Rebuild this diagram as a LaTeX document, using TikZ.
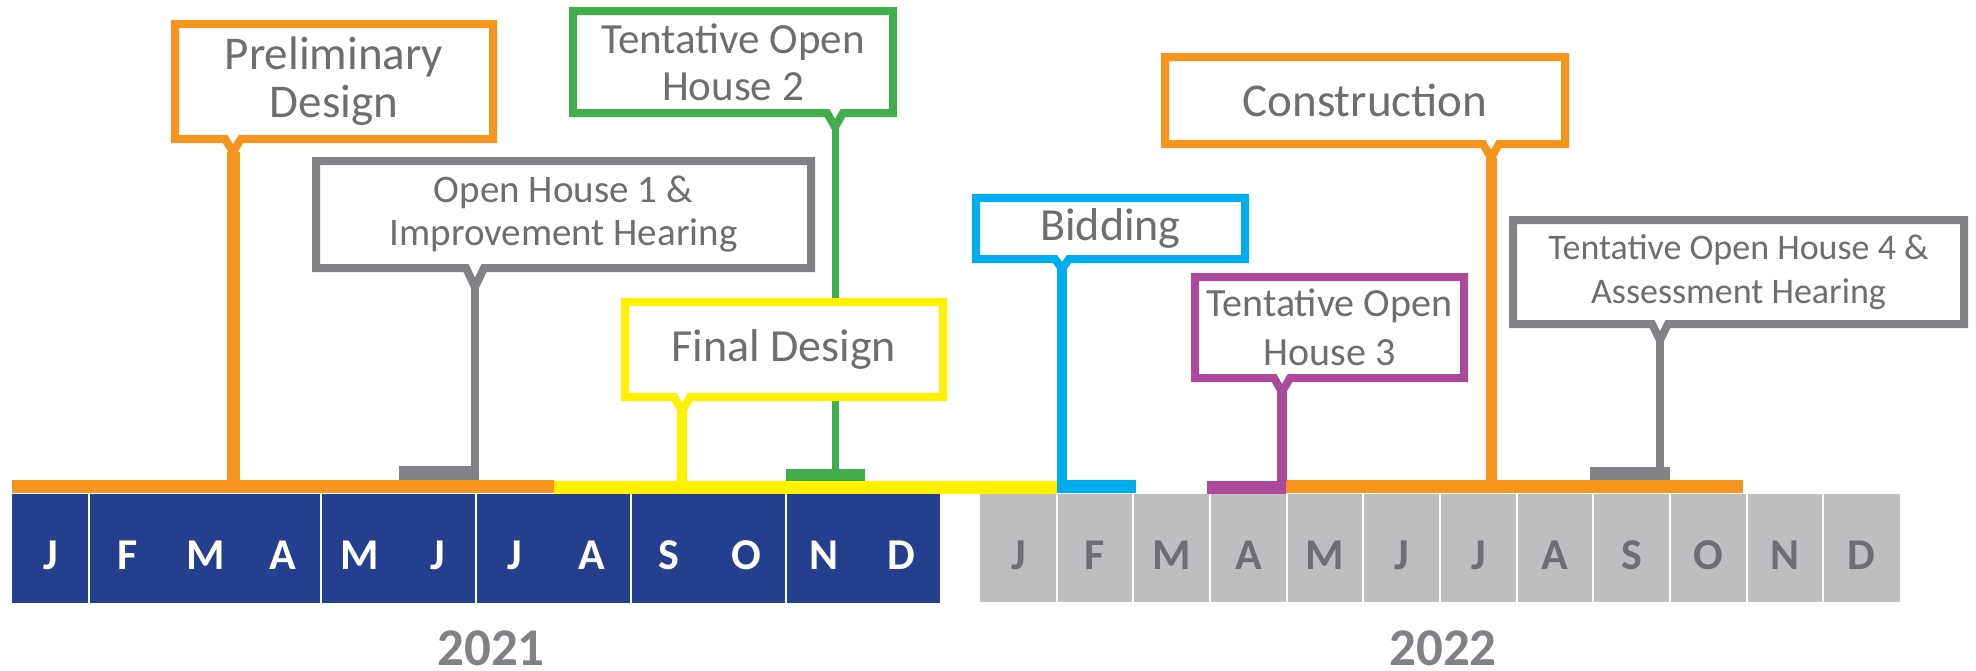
\documentclass[tikz,border=0pt]{standalone}
\usepackage{fontspec}
\setmainfont{Carlito}
\usetikzlibrary{calc}
\definecolor{orng}{HTML}{F7941D}
\definecolor{gry}{HTML}{808285}
\definecolor{grn}{HTML}{40AE4A}
\definecolor{ylw}{HTML}{FFF100}
\definecolor{cyn}{HTML}{00AEEF}
\definecolor{mag}{HTML}{AB4A9C}
\definecolor{navy}{HTML}{243F8E}
\definecolor{lgry}{HTML}{BCBEC0}
\definecolor{txtc}{HTML}{6D6E71}
\tikzset{
  boxtxt/.style={inner sep=0pt, outer sep=0pt, align=center, text=txtc, fill=white},
  barnode/.style={fill=#1, draw=none, inner sep=0pt, outer sep=0pt, anchor=north west},
  mlet/.style={font=\fontsize{44}{44}\selectfont\bfseries, anchor=base, inner sep=0pt},
  yr/.style={font=\fontsize{53}{53}\selectfont\bfseries, text=gry, anchor=base, inner sep=0pt},
  sepline/.style={draw=white, line width=2.2pt},
}
\newcommand\tailbox[4]{%
  \draw[draw=#2, line width=8pt, line join=miter]
    (#1.north west) -- (#1.north east) -- (#1.south east)
    -- ($(#1.south -| #3)+(#4,0)$) -- (#3) -- ($(#1.south -| #3)-(#4,0)$)
    -- (#1.south west) -- cycle;}
\begin{document}
\begin{tikzpicture}[x=1pt,y=-1pt]
\useasboundingbox (0,0) rectangle (1976,670);

% month blocks
\node[barnode=navy, minimum width=928, minimum height=109] (y21) at (12,494) {};
\node[barnode=lgry, minimum width=920, minimum height=108] (y22) at (980,494) {};
\foreach \sx in {89,321,476,631,786}
  \draw[sepline] (\sx,0 |- y21.north) -- (\sx,0 |- y21.south);
\foreach \k in {1,...,11}
  \draw[sepline] ({980+76.667*\k},0 |- y22.north) -- ({980+76.667*\k},0 |- y22.south);
\foreach \m [count=\i from 0] in {J,F,M,A,M,J,J,A,S,O,N,D} {
  \node[mlet, text=white] (a\i) at ({12+77.333*(\i+0.5)},569) {\m};
  \node[mlet, text=txtc] (b\i) at ({980+76.667*(\i+0.5)},569) {\m};
}
\node[yr] (yr21) at (491,665) {2021};
\node[yr] (yr22) at (1443,665) {2022};

% bars and stubs
\node[barnode=orng, minimum width=542, minimum height=13] (bar1) at (12,480) {};
\node[barnode=gry,  minimum width=80,  minimum height=14] (stubA) at (399,466) {};
\node[barnode=ylw,  minimum width=503, minimum height=13] (bar2) at (554,481) {};
\node[barnode=grn,  minimum width=79,  minimum height=12] (stubB) at (786,469) {};
\node[barnode=cyn,  minimum width=79,  minimum height=13] (bar3) at (1057,480) {};
\node[barnode=mag,  minimum width=79,  minimum height=13] (bar4) at (1207,481) {};
\node[barnode=orng, minimum width=457, minimum height=13] (bar5) at (1286,480) {};
\node[barnode=gry,  minimum width=80,  minimum height=13] (stubC) at (1590,467) {};

% tail tips
\coordinate (tPre) at (233,152);
\coordinate (tOH1) at (475,287);
\coordinate (tOH2) at (835,127);
\coordinate (tFin) at (682,411);
\coordinate (tBid) at (1062,269);
\coordinate (tOH3) at (1282,392);
\coordinate (tCon) at (1491,158);
\coordinate (tOH4) at (1660,340);

% stems
\draw[orng, line width=13pt] (tPre) -- (tPre |- bar1.north);
\draw[gry,  line width=8pt]  (tOH1) -- (tOH1 |- stubA.north);
\draw[grn,  line width=7pt]  (tOH2) -- (tOH2 |- stubB.north);
\draw[ylw,  line width=10pt] (tFin) -- (tFin |- bar2.north);
\draw[cyn,  line width=10pt] (tBid) -- (tBid |- bar3.north);
\draw[mag,  line width=10pt] (tOH3) -- (tOH3 |- bar4.north);
\draw[orng, line width=11pt] (tCon) -- (tCon |- bar5.north);
\draw[gry,  line width=8pt]  (tOH4) -- (tOH4 |- stubC.north);

% callout boxes
\node[boxtxt, minimum width=318, minimum height=115, font=\fontsize{47}{48}\selectfont] (pre) at (334,81.5) {Preliminary\\Design};
\tailbox{pre}{orng}{tPre}{8}
\node[boxtxt, minimum width=495, minimum height=107, font=\fontsize{39}{43}\selectfont] (oh1) at (563.5,214.5) {Open House 1 \&\\Improvement Hearing};
\tailbox{oh1}{gry}{tOH1}{9}
\node[boxtxt, minimum width=320, minimum height=102, font=\fontsize{43}{47}\selectfont] (oh2) at (733,62) {Tentative Open\\House 2};
\tailbox{oh2}{grn}{tOH2}{8}
\node[boxtxt, minimum width=318, minimum height=95, font=\fontsize{46}{48}\selectfont] (fin) at (784,349.5) {Final Design};
\tailbox{fin}{ylw}{tFin}{8}
\node[boxtxt, minimum width=269, minimum height=61, font=\fontsize{46}{48}\selectfont] (bid) at (1110.5,228.5) {Bidding};
\tailbox{bid}{cyn}{tBid}{7}
\node[boxtxt, minimum width=269, minimum height=101, font=\fontsize{40}{49}\selectfont] (oh3) at (1329.5,327.5) {Tentative Open\\House 3};
\tailbox{oh3}{mag}{tOH3}{8}
\node[boxtxt, minimum width=400, minimum height=87, font=\fontsize{47}{48}\selectfont] (con) at (1365,100.5) {Construction};
\tailbox{con}{orng}{tCon}{8}
\node[boxtxt, minimum width=451, minimum height=104, font=\fontsize{36}{44}\selectfont] (oh4) at (1738.5,272) {Tentative Open House 4 \&\\Assessment Hearing};
\tailbox{oh4}{gry}{tOH4}{8}
\end{tikzpicture}
\end{document}
